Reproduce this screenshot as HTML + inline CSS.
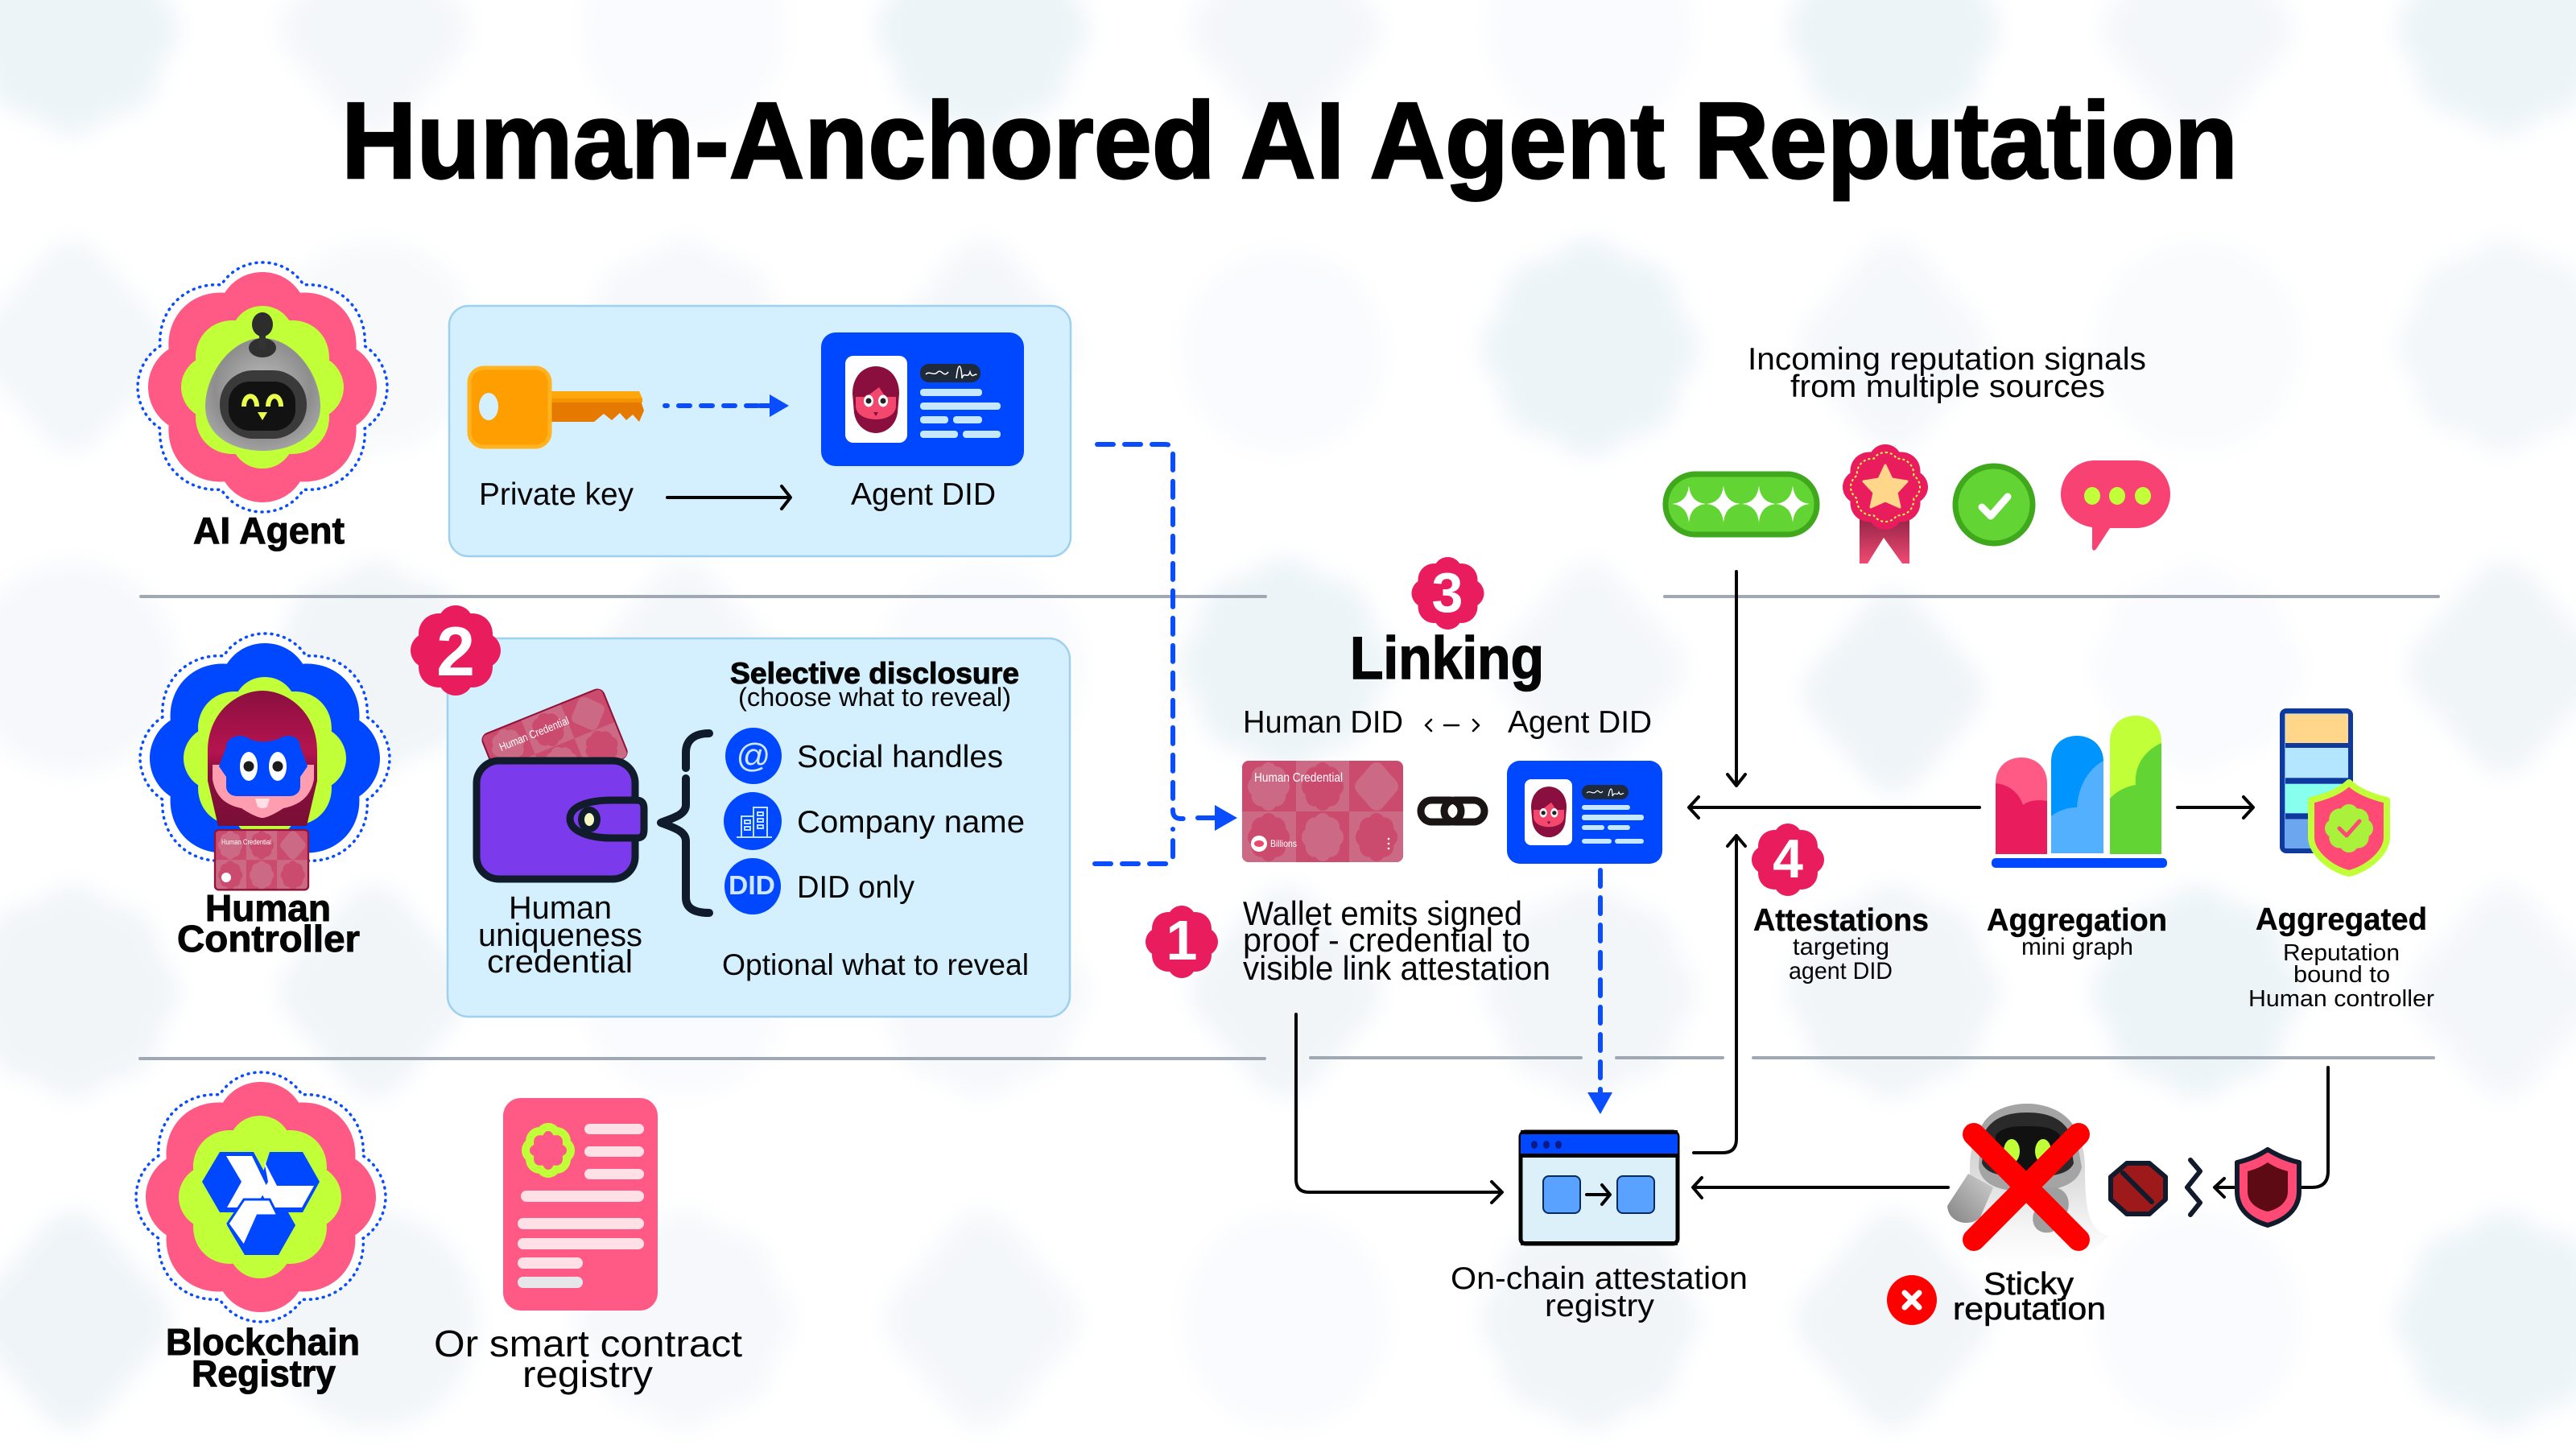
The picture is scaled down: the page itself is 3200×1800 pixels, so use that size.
<!DOCTYPE html>
<html><head><meta charset="utf-8"><title>Human-Anchored AI Agent Reputation</title>
<style>
html,body{margin:0;padding:0;background:#fff;width:3200px;height:1800px;overflow:hidden}
svg{display:block;position:absolute;left:0;top:0;overflow:hidden}
text{font-family:"Liberation Sans",sans-serif;fill:#050505}
.b{font-weight:700;stroke:#050505;stroke-width:1}
.t{font-weight:700;stroke:#000;stroke-width:2.5;fill:#000}
.w{fill:#fff;font-weight:700}
.ln{fill:none;stroke:#050505;stroke-width:4;stroke-linecap:round;stroke-linejoin:round}
.bd{fill:none;stroke:#0a4dff;stroke-width:6;stroke-linecap:round;stroke-linejoin:round;stroke-dasharray:20 14}
.dv{stroke:#a0a8b4;stroke-width:4;stroke-linecap:round}
</style></head><body>
<svg width="3200" height="1800" viewBox="0 0 3200 1800">
<defs>
<g id="f"><path transform="scale(.01)" vector-effect="non-scaling-stroke" d="M0-100C14-100 26-93 33-82C62-84 84-62 82-33C93-26 100-13 100 0C100 13 93 26 82 33C84 62 62 84 33 82C26 93 14 100 0 100C-14 100-26 93-33 82C-62 84-84 62-82 33C-93 26-100 13-100 0C-100-13-93-26-82-33C-84-62-62-84-33-82C-26-93-14-100 0-100Z"/></g>
<g id="d"><path transform="scale(.01)" d="M0-100C18-100 30-82 50-58C66-38 90-20 90 0C90 20 66 38 50 58C30 82 18 100 0 100C-18 100-30 82-50 58C-66 38-90 20-90 0C-90-20-66-38-50-58C-30-82-18-100 0-100Z"/></g>
<filter id="bl" filterUnits="userSpaceOnUse" x="-50" y="-50" width="3300" height="1900"><feGaussianBlur stdDeviation="14"/></filter>
<radialGradient id="gh" cx=".5" cy=".45" r=".6"><stop offset="0" stop-color="#bdbdbd"/><stop offset=".7" stop-color="#8e8e8e"/><stop offset="1" stop-color="#a8a8a8"/></radialGradient>
<linearGradient id="hair" x1="0" y1="0" x2="0" y2="1"><stop offset="0" stop-color="#8a0f3f"/><stop offset=".45" stop-color="#b5144f"/><stop offset=".6" stop-color="#8a0f3f"/><stop offset="1" stop-color="#7a0f35"/></linearGradient>
<linearGradient id="rib" x1="0" y1="0" x2="0" y2="1"><stop offset="0" stop-color="#8f2245"/><stop offset="1" stop-color="#f04a72"/></linearGradient>
<linearGradient id="ghb" x1="0" y1="0" x2="0" y2="1"><stop offset="0" stop-color="#c4c4c4"/><stop offset=".5" stop-color="#e0e0e0"/><stop offset=".78" stop-color="#f6f6f6"/><stop offset="1" stop-color="#ffffff"/></linearGradient>
<linearGradient id="arm" x1="1" y1="0" x2="0" y2="1"><stop offset="0" stop-color="#cfcfcf"/><stop offset="1" stop-color="#858585"/></linearGradient>
<clipPath id="cc"><rect width="200" height="126" rx="8"/></clipPath>
<g id="cred"><g clip-path="url(#cc)">
<rect width="200" height="126" fill="#cb4b6e"/>
<rect x="67" width="66" height="63" fill="#cc6a85"/><rect y="63" width="67" height="63" fill="#cc6a85"/><rect x="133" y="63" width="67" height="63" fill="#cc6a85"/>
<use href="#f" transform="translate(33,32) scale(26,30)" fill="#cc6a85"/><use href="#f" transform="translate(100,32) scale(26,30)" fill="#cb4b6e"/><use href="#d" transform="translate(167,32) scale(30,30)" fill="#cc6a85"/>
<use href="#f" transform="translate(33,95) scale(26,30)" fill="#cb4b6e"/><use href="#f" transform="translate(100,95) scale(26,30)" fill="#cc6a85"/><use href="#f" transform="translate(167,95) scale(26,30)" fill="#cb4b6e"/>
</g></g>
<g id="face">
<path d="M-29-8C-29-30-15-42 0-42C15-42 29-30 29-8L27 16C24 34 10 41 0 41C-10 41-24 34-27 16Z" fill="#8a0f3f"/>
<path d="M-25-4L-12-4L-4-10L4-16L12-4L25-4L25 8C24 20 10 24 0 24C-10 24-24 20-25 8Z" fill="#f4476e"/>
<ellipse cx="-9" cy="1" rx="6" ry="7.5" fill="#fff"/><ellipse cx="9" cy="1" rx="6" ry="7.5" fill="#fff"/>
<circle cx="-9" cy="1" r="3.5" fill="#222"/><circle cx="9" cy="1" r="3.5" fill="#222"/>
<path d="M-3 15H3L0 20Z" fill="#8a0f3f"/>
</g>
</defs>

<!-- background -->
<g filter="url(#bl)">
<use href="#f" transform="translate(90,36) scale(132)" fill="#edf4f8"/>
<use href="#d" transform="translate(465,36) scale(132)" fill="#f4f7fa"/>
<ellipse cx="850" cy="36" rx="128" ry="130" fill="#fafbfe"/>
<use href="#f" transform="translate(1220,36) scale(132)" fill="#edf4f8"/>
<use href="#d" transform="translate(1597,36) scale(132)" fill="#f4f7fa"/>
<ellipse cx="1975" cy="36" rx="128" ry="130" fill="#fafbfe"/>
<use href="#f" transform="translate(2352,36) scale(132)" fill="#edf4f8"/>
<use href="#d" transform="translate(2730,36) scale(132)" fill="#f4f7fa"/>
<use href="#f" transform="translate(3110,36) scale(132)" fill="#edf4f8"/>

<use href="#d" transform="translate(90,430) scale(132)" fill="#f3f7f9"/>
<ellipse cx="465" cy="430" rx="128" ry="130" fill="#f7f9fb"/>
<use href="#f" transform="translate(850,430) scale(132)" fill="#f6f8fb"/>
<use href="#d" transform="translate(1220,430) scale(132)" fill="#f4f7fa"/>
<ellipse cx="1594" cy="437" rx="127" ry="127" fill="#fafbfe"/>
<use href="#f" transform="translate(1975,432) scale(135)" fill="#edf4f8"/>
<use href="#d" transform="translate(2352,430) scale(132)" fill="#f5f8fa"/>
<ellipse cx="2730" cy="430" rx="128" ry="130" fill="#f9fbfd"/>
<use href="#f" transform="translate(3110,430) scale(132)" fill="#f3f7f9"/>

<ellipse cx="90" cy="830" rx="128" ry="130" fill="#f6f8fb"/>
<use href="#f" transform="translate(465,830) scale(132)" fill="#f1f5f8"/>
<use href="#d" transform="translate(850,830) scale(132)" fill="#f4f7fa"/>
<ellipse cx="1220" cy="830" rx="128" ry="130" fill="#fafbfe"/>
<use href="#f" transform="translate(1597,825) scale(132)" fill="#edf4f8"/>
<use href="#d" transform="translate(1975,830) scale(132)" fill="#f4f7fa"/>
<use href="#d" transform="translate(2352,860) scale(125)" fill="#eff4f8"/>
<use href="#f" transform="translate(2730,830) scale(132)" fill="#fafbfe"/>
<use href="#d" transform="translate(3110,830) scale(132)" fill="#f0f5f8"/>

<use href="#f" transform="translate(90,1232) scale(132)" fill="#f1f5f8"/>
<use href="#d" transform="translate(465,1232) scale(132)" fill="#f1f5f8"/>
<ellipse cx="850" cy="1232" rx="128" ry="130" fill="#fafbfe"/>
<use href="#f" transform="translate(1220,1232) scale(132)" fill="#f6f8fb"/>
<use href="#d" transform="translate(1597,1232) scale(132)" fill="#f1f5f8"/>
<use href="#f" transform="translate(1975,1232) scale(132)" fill="#f3f6f9"/>
<use href="#f" transform="translate(2352,1232) scale(132)" fill="#f1f5f8"/>
<use href="#f" transform="translate(2730,1232) scale(132)" fill="#edf4f8"/>
<use href="#d" transform="translate(3110,1232) scale(132)" fill="#f4f7fa"/>

<use href="#d" transform="translate(90,1640) scale(135)" fill="#eef4f8"/>
<ellipse cx="465" cy="1640" rx="128" ry="135" fill="#f2f6f9"/>
<use href="#f" transform="translate(850,1640) scale(135)" fill="#f6f8fb"/>
<use href="#d" transform="translate(1220,1640) scale(135)" fill="#f4f7fa"/>
<ellipse cx="1597" cy="1640" rx="128" ry="135" fill="#fafbfe"/>
<use href="#f" transform="translate(1975,1640) scale(135)" fill="#f1f5f8"/>
<use href="#d" transform="translate(2352,1640) scale(135)" fill="#f1f5f8"/>
<ellipse cx="2730" cy="1640" rx="128" ry="135" fill="#fafbfe"/>
<use href="#f" transform="translate(3110,1640) scale(135)" fill="#edf4f8"/>
</g>

<!-- title -->
<text class="t" x="424" y="221" font-size="135" textLength="2356" lengthAdjust="spacingAndGlyphs">Human-Anchored AI Agent Reputation</text>

<!-- dividers -->
<line class="dv" x1="175" y1="741" x2="1572" y2="741"/>
<line class="dv" x1="2068" y1="741" x2="3029" y2="741"/>
<line class="dv" x1="174" y1="1315" x2="1571" y2="1315"/>
<line class="dv" x1="1628" y1="1314" x2="1964" y2="1314"/>
<line class="dv" x1="2008" y1="1314" x2="2140" y2="1314"/>
<line class="dv" x1="2178" y1="1314" x2="3023" y2="1314"/>

<!-- AI Agent -->
<use href="#f" transform="translate(326,481) scale(155)" fill="#fff" stroke="#0a4dff" stroke-width="3.5" stroke-dasharray="1 7" stroke-linecap="round"/>
<use href="#f" transform="translate(326,481) scale(142,143)" fill="#ff5a85"/>
<use href="#f" transform="translate(326,481) scale(101)" fill="#c1ff38"/>
<path d="M326 420C365 420 398 465 398 505C398 540 365 560 326 560C287 560 255 540 255 505C255 465 287 420 326 420Z" fill="url(#gh)"/>
<ellipse cx="326" cy="432" rx="17" ry="12" fill="#303030"/>
<rect x="322" y="412" width="8" height="22" fill="#333"/>
<ellipse cx="326" cy="403" rx="13" ry="15" fill="#2d2d2d"/>
<rect x="273" y="460" width="108" height="85" rx="42" fill="#3a3a3a"/>
<rect x="284" y="474" width="83" height="61" rx="26" fill="#121212"/>
<path d="M303 505C303 488 319 488 319 505" fill="none" stroke="#eaff4d" stroke-width="6"/>
<path d="M333 505C333 488 349 488 349 505" fill="none" stroke="#eaff4d" stroke-width="6"/>
<path d="M320 512H332L326 522Z" fill="#eaff4d"/>
<text class="b" x="240" y="675" font-size="46" textLength="188" lengthAdjust="spacingAndGlyphs">AI Agent</text>

<!-- Panel 1 -->
<rect x="558" y="380" width="772" height="311" rx="24" fill="#d4effe" stroke="#9fd0ec" stroke-width="2.5"/>
<path d="M684 486H792L800 510L794 524L786 515L778 522L770 513L760 522L750 514L738 524L700 524L684 524Z" fill="#e67a00"/>
<path d="M684 486H794L798 495H684Z" fill="#ffa60d"/><rect x="684" y="495" width="114" height="5" fill="#f59300"/>
<rect x="583" y="457" width="100" height="98" rx="18" fill="#ff9e00" stroke="#ffb31f" stroke-width="5"/>
<ellipse cx="607" cy="505" rx="12" ry="17" fill="#d4effe"/>
<path d="M826 504H957" fill="none" stroke="#0a4dff" stroke-width="6" stroke-linecap="round" stroke-dasharray="3 14 14 14 14 14 14 14 14"/>
<path d="M956 490L980 504L956 518Z" fill="#0a4dff"/>
<rect x="1020" y="413" width="252" height="166" rx="18" fill="#0048ff"/>
<rect x="1050" y="442" width="77" height="108" rx="10" fill="#fff"/>
<use href="#face" transform="translate(1088,497)"/>
<rect x="1143" y="452" width="75" height="23" rx="11" fill="#1f2a3a"/>
<path d="M1150 465C1155 460 1160 468 1165 462C1170 458 1172 470 1178 462M1188 470C1190 450 1194 450 1195 470C1198 460 1202 472 1205 462C1208 472 1212 462 1213 466" fill="none" stroke="#fff" stroke-width="1.5"/>
<g fill="#c5e8ff"><rect x="1143" y="483" width="77" height="9" rx="4"/><rect x="1143" y="500" width="100" height="9" rx="4"/><rect x="1143" y="517" width="35" height="9" rx="4"/><rect x="1184" y="517" width="36" height="9" rx="4"/><rect x="1143" y="535" width="47" height="9" rx="4"/><rect x="1196" y="535" width="47" height="9" rx="4"/></g>
<text x="595" y="627" font-size="39" textLength="192" lengthAdjust="spacingAndGlyphs">Private key</text>
<path class="ln" d="M829 618H981M971 604L982 618L971 632"/>
<text x="1057" y="627" font-size="39" textLength="180" lengthAdjust="spacingAndGlyphs">Agent DID</text>

<!-- Human controller -->
<use href="#f" transform="translate(329,942) scale(155)" fill="#fff" stroke="#0a4dff" stroke-width="3.5" stroke-dasharray="1 7" stroke-linecap="round"/>
<use href="#f" transform="translate(329,942) scale(143)" fill="#0048ff"/>
<use href="#f" transform="translate(329,942) scale(101)" fill="#c1ff38"/>
<path d="M271 1026L258 970V935C257 885 295 858 326 858C357 858 395 885 394 935V970L381 1026Z" fill="url(#hair)"/>
<path d="M264 950H390V968C386 990 372 1000 352 1004C340 1012 330 1016 326 1016C322 1016 312 1012 300 1004C280 1000 268 990 264 968Z" fill="#ff9db0"/>
<path d="M272 952L281 928C281 915 300 910 310 918Q326 925 346 918C358 910 373 915 373 928L382 952L373 965V977C373 984 367 989 360 989H294C287 989 281 984 281 977V965Z" fill="#0048ff"/>
<ellipse cx="309" cy="952" rx="11" ry="18" fill="#fff"/><ellipse cx="345" cy="952" rx="11" ry="18" fill="#fff"/>
<circle cx="309" cy="952" r="6.5" fill="#1c1c1c"/><circle cx="345" cy="952" r="6.5" fill="#1c1c1c"/>
<path d="M317 992H335L332 1002Q326 1006 320 1002Z" fill="#ffe0e4"/>
<g transform="translate(267,1031) scale(.58,.59)"><use href="#cred"/><rect x="0" y="0" width="200" height="126" rx="8" fill="none" stroke="#8f1438" stroke-width="4"/></g>
<text x="275" y="1049" font-size="9" class="w" style="font-weight:400" textLength="62" lengthAdjust="spacingAndGlyphs">Human Credential</text>
<circle cx="281" cy="1090" r="6" fill="#fff"/>
<text class="b" x="255" y="1144" font-size="46" textLength="156" lengthAdjust="spacingAndGlyphs">Human</text>
<text class="b" x="220" y="1182" font-size="46" textLength="227" lengthAdjust="spacingAndGlyphs">Controller</text>

<!-- Panel 2 -->
<rect x="556" y="793" width="773" height="470" rx="26" fill="#d4effe" stroke="#9fd0ec" stroke-width="2.5"/>
<use href="#f" transform="translate(566,808) scale(56)" fill="#e91c5d"/>
<text class="w" x="566" y="839" font-size="86" text-anchor="middle">2</text>
<g transform="translate(598,915) rotate(-22)">
<rect x="0" y="0" width="160" height="90" rx="8" fill="#cb4b6e" stroke="#8f1438" stroke-width="4"/>
<g transform="scale(.8,.72)"><use href="#cred"/></g>
<text x="16" y="26" font-size="14" fill="#fff" style="fill:#fff" textLength="92" lengthAdjust="spacingAndGlyphs">Human Credential</text>
</g>
<rect x="592" y="945" width="197" height="147" rx="28" fill="#7c3aed" stroke="#101b2c" stroke-width="9"/>
<path d="M790 994H760C735 994 708 1000 708 1017C708 1034 735 1041 760 1041H790C798 1041 800 1038 800 1030V1005C800 998 798 994 790 994Z" fill="#7c3aed" stroke="#101b2c" stroke-width="9"/>
<ellipse cx="732" cy="1018" rx="14" ry="16" fill="#101b2c"/><ellipse cx="732" cy="1018" rx="6" ry="8" fill="#f5f8c5"/>
<path d="M881 911C862 911 852 920 852 935V954M852 967V1000C852 1012 836 1016 821 1022C836 1028 852 1032 852 1045V1115C852 1128 862 1134 881 1134" fill="none" stroke="#101b2c" stroke-width="10" stroke-linecap="round" stroke-linejoin="round"/>
<circle cx="936" cy="939" r="35" fill="#0048ff"/><circle cx="935" cy="1020" r="36" fill="#0048ff"/><circle cx="935" cy="1101" r="35" fill="#0048ff"/>
<text x="936" y="953" font-size="42" text-anchor="middle" style="fill:#cfe6ff">@</text>
<g fill="none" stroke="#bfe0ff" stroke-width="2"><rect x="921" y="1014" width="15" height="26"/><rect x="936" y="1003" width="17" height="37"/><line x1="915" y1="1040" x2="959" y2="1040"/><rect x="925" y="1019" width="7" height="4"/><rect x="925" y="1027" width="7" height="4"/><rect x="941" y="1009" width="7" height="4"/><rect x="941" y="1017" width="7" height="4"/><rect x="941" y="1025" width="7" height="4"/></g>
<text x="905" y="1111" font-size="33" font-weight="700" textLength="58" lengthAdjust="spacingAndGlyphs" style="fill:#cfe6ff">DID</text>
<text class="b" x="907" y="849" font-size="37" textLength="359" lengthAdjust="spacingAndGlyphs">Selective disclosure</text>
<text x="917" y="877" font-size="32" textLength="339" lengthAdjust="spacingAndGlyphs">(choose what to reveal)</text>
<text x="990" y="953" font-size="39" textLength="256" lengthAdjust="spacingAndGlyphs">Social handles</text>
<text x="990" y="1034" font-size="39" textLength="283" lengthAdjust="spacingAndGlyphs">Company name</text>
<text x="990" y="1115" font-size="39" textLength="146" lengthAdjust="spacingAndGlyphs">DID only</text>
<text x="897" y="1211" font-size="37" textLength="381" lengthAdjust="spacingAndGlyphs">Optional what to reveal</text>
<text x="632" y="1141" font-size="40" textLength="128" lengthAdjust="spacingAndGlyphs">Human</text>
<text x="594" y="1175" font-size="40" textLength="204" lengthAdjust="spacingAndGlyphs">uniqueness</text>
<text x="605" y="1208" font-size="40" textLength="181" lengthAdjust="spacingAndGlyphs">credential</text>

<!-- Blockchain -->
<use href="#f" transform="translate(324,1487) scale(155)" fill="#fff" stroke="#0a4dff" stroke-width="3.5" stroke-dasharray="1 7" stroke-linecap="round"/>
<use href="#f" transform="translate(324,1487) scale(143)" fill="#ff5a85"/>
<use href="#f" transform="translate(323,1487) scale(101)" fill="#c1ff38"/>
<path d="M273 1431H315L335 1468L315 1506H273L251 1468Z" fill="#0048ff"/>
<path d="M335 1431H376L397 1468L376 1506H335L323 1468Z" fill="#0048ff"/>
<path d="M304 1485H346L367 1522L346 1559H304L282 1522Z" fill="#0048ff"/>
<path d="M281 1436H313L332 1475L317 1500H282L300 1468Z" fill="#fff"/>
<path d="M328 1442L344 1473H390L375 1500H334L325 1482L333 1468Z" fill="#fff"/>
<path d="M303 1490H335L345 1510H320L303 1548L283 1520Z" fill="#fff" stroke="#0048ff" stroke-width="3"/>
<text class="b" x="206" y="1683" font-size="46" textLength="241" lengthAdjust="spacingAndGlyphs">Blockchain</text>
<text class="b" x="238" y="1722" font-size="46" textLength="179" lengthAdjust="spacingAndGlyphs">Registry</text>
<rect x="625" y="1364" width="192" height="264" rx="22" fill="#ff5a85"/>
<use href="#f" transform="translate(681,1429) scale(28,29)" fill="none" stroke="#c1ff38" stroke-width="10"/>
<g fill="#ffe0e6"><rect x="726" y="1396" width="74" height="13" rx="6.5"/><rect x="726" y="1424" width="74" height="13" rx="6.5"/><rect x="726" y="1452" width="74" height="13" rx="6.5"/><rect x="647" y="1479" width="153" height="14" rx="7"/><rect x="643" y="1513" width="157" height="14" rx="7"/><rect x="643" y="1538" width="157" height="14" rx="7"/><rect x="643" y="1562" width="81" height="14" rx="7"/></g>
<rect x="643" y="1586" width="81" height="14" rx="7" fill="#e6e7ea"/>
<text x="539" y="1685" font-size="46" textLength="383" lengthAdjust="spacingAndGlyphs">Or smart contract</text>
<text x="649" y="1723" font-size="46" textLength="162" lengthAdjust="spacingAndGlyphs">registry</text>

<!-- Linking -->
<use href="#f" transform="translate(1798.5,737) scale(45)" fill="#e91c5d"/>
<text class="w" x="1798" y="760" font-size="70" text-anchor="middle">3</text>
<text class="b" x="1677" y="843" font-size="74" textLength="241" lengthAdjust="spacingAndGlyphs" style="stroke-width:1.5">Linking</text>
<text x="1544" y="910" font-size="39" textLength="199" lengthAdjust="spacingAndGlyphs">Human DID</text>
<text x="1873" y="910" font-size="39" textLength="179" lengthAdjust="spacingAndGlyphs">Agent DID</text>
<path d="M1778 894L1771 901L1778 908M1794 901H1812M1830 894L1837 901L1830 908" fill="none" stroke="#050505" stroke-width="2.5" stroke-linecap="round" stroke-linejoin="round"/>
<use href="#cred" transform="translate(1543,945)"/>
<text x="1558" y="971" font-size="15.5" textLength="110" lengthAdjust="spacingAndGlyphs" style="fill:#fff">Human Credential</text>
<circle cx="1564" cy="1048" r="10" fill="#fff"/><ellipse cx="1564" cy="1048" rx="6" ry="4" fill="#e9486f"/>
<text x="1578" y="1052" font-size="12" textLength="33" lengthAdjust="spacingAndGlyphs" style="fill:#fff">Billions</text>
<g fill="#fff"><circle cx="1725" cy="1042" r="1.3"/><circle cx="1725" cy="1048" r="1.3"/><circle cx="1725" cy="1054" r="1.3"/></g>
<rect x="1765" y="994" width="50" height="27" rx="13.5" fill="none" stroke="#1a1414" stroke-width="9"/>
<rect x="1794" y="994" width="50" height="27" rx="13.5" fill="none" stroke="#1a1414" stroke-width="9"/>
<rect x="1872" y="945" width="193" height="128" rx="16" fill="#0048ff"/>
<rect x="1894" y="968" width="59" height="82" rx="8" fill="#fff"/>
<use href="#face" transform="translate(1924,1009) scale(.76)"/>
<rect x="1965" y="975" width="58" height="18" rx="9" fill="#1f2a3a"/>
<path d="M1971 985C1975 981 1979 988 1983 983C1986 980 1987 988 1991 983M1998 989C2000 977 2003 977 2003 989C2006 982 2009 990 2011 984C2013 990 2016 984 2017 986" fill="none" stroke="#fff" stroke-width="1.2"/>
<g fill="#c5e8ff"><rect x="1965" y="1000" width="60" height="6" rx="3"/><rect x="1965" y="1012" width="77" height="7" rx="3"/><rect x="1965" y="1025" width="28" height="6" rx="3"/><rect x="1997" y="1025" width="28" height="6" rx="3"/><rect x="1965" y="1042" width="37" height="6" rx="3"/><rect x="2006" y="1042" width="36" height="6" rx="3"/></g>

<!-- blue dashed connectors -->
<path class="bd" d="M1363 552H1447Q1457 552 1457 562V1007Q1457 1017 1467 1017H1472"/>
<path class="bd" d="M1360 1073H1447Q1457 1073 1457 1063V1030"/>
<line x1="1488" y1="1016" x2="1510" y2="1016" stroke="#0a4dff" stroke-width="6" stroke-linecap="round"/>
<path d="M1509 1000L1537 1016L1509 1032Z" fill="#0a4dff"/>
<path d="M1988 1081V1358" fill="none" stroke="#0a4dff" stroke-width="6" stroke-linecap="round" stroke-dasharray="20 14"/>
<path d="M1972 1357H2003L1988 1384Z" fill="#0a4dff"/>

<use href="#f" transform="translate(1468,1170) scale(45)" fill="#e91c5d"/>
<text class="w" x="1468" y="1192" font-size="70" text-anchor="middle">1</text>
<text x="1544" y="1149" font-size="42" textLength="347" lengthAdjust="spacingAndGlyphs">Wallet emits signed</text>
<text x="1544" y="1182" font-size="42" textLength="357" lengthAdjust="spacingAndGlyphs">proof - credential to</text>
<text x="1544" y="1217" font-size="42" textLength="382" lengthAdjust="spacingAndGlyphs">visible link attestation</text>

<!-- Signals -->
<text x="2171" y="459" font-size="39" textLength="495" lengthAdjust="spacingAndGlyphs">Incoming reputation signals</text>
<text x="2224" y="493" font-size="39" textLength="391" lengthAdjust="spacingAndGlyphs">from multiple sources</text>
<rect x="2069" y="589" width="188" height="75" rx="37" fill="#62d433" stroke="#3fa81c" stroke-width="7"/>
<g fill="#fff">
<path d="M2098 603Q2100 624 2119 626Q2100 628 2098 649Q2096 628 2077 626Q2096 624 2098 603Z"/>
<path d="M2141 603Q2143 624 2162 626Q2143 628 2141 649Q2139 628 2120 626Q2139 624 2141 603Z"/>
<path d="M2185 603Q2187 624 2206 626Q2187 628 2185 649Q2183 628 2164 626Q2183 624 2185 603Z"/>
<path d="M2227 603Q2229 624 2248 626Q2229 628 2227 649Q2225 628 2206 626Q2225 624 2227 603Z"/>
</g>
<path d="M2310 640H2372V700H2363L2340 668L2320 700H2310Z" fill="url(#rib)"/>
<use href="#f" transform="translate(2342,605) scale(53)" fill="#e91c5d"/>
<use href="#f" transform="translate(2342,605) scale(43)" fill="none" stroke="#e3ff4a" stroke-width="2" stroke-dasharray="3 3"/>
<path d="M2342 578L2350 595L2369 598L2356 612L2360 630L2342 622L2324 630L2328 612L2315 598L2334 595Z" fill="#ffd68a" stroke="#ffd68a" stroke-width="3" stroke-linejoin="round"/>
<circle cx="2477" cy="627" r="48" fill="#62d433" stroke="#3fa81c" stroke-width="7"/>
<path d="M2462 630L2473 641L2494 617" fill="none" stroke="#fff" stroke-width="9" stroke-linecap="round" stroke-linejoin="round"/>
<path d="M2602 572H2654C2677 572 2696 591 2696 614C2696 637 2677 656 2654 656H2621L2604 682Q2600 686 2599 681V655C2577 652 2560 635 2560 614C2560 591 2579 572 2602 572Z" fill="#f94274"/>
<g fill="#c1ff38"><ellipse cx="2599" cy="616" rx="10" ry="11"/><ellipse cx="2630" cy="616" rx="10" ry="11"/><ellipse cx="2662" cy="616" rx="10" ry="11"/></g>

<!-- black connectors -->
<path class="ln" d="M2157 710V976M2146 962L2157 976L2168 962"/>
<path class="ln" d="M2459 1003H2099M2110 990L2098 1003L2110 1016"/>
<path class="ln" d="M2104 1432H2140Q2157 1432 2157 1415V1038M2146 1051L2157 1038L2168 1051"/>
<path class="ln" d="M2705 1003H2798M2787 990L2799 1003L2787 1016"/>
<path class="ln" d="M1610 1260V1465Q1610 1481 1626 1481H1864M1853 1468L1866 1481L1853 1494"/>
<path class="ln" d="M2420 1475H2105M2114 1463L2103 1475L2114 1488"/>
<path class="ln" d="M2892 1326V1455Q2892 1475 2872 1475H2858"/>
<path class="ln" d="M2775 1475H2753M2763 1464L2751 1475L2763 1487"/>

<!-- Badge 4 and labels -->
<use href="#f" transform="translate(2221,1068) scale(45)" fill="#e91c5d"/>
<text class="w" x="2221" y="1090" font-size="68" text-anchor="middle">4</text>
<text class="b" x="2178" y="1156" font-size="39" textLength="218" lengthAdjust="spacingAndGlyphs" style="stroke-width:.4">Attestations</text>
<text x="2227" y="1186" font-size="30" textLength="120" lengthAdjust="spacingAndGlyphs">targeting</text>
<text x="2222" y="1216" font-size="30" textLength="129" lengthAdjust="spacingAndGlyphs">agent DID</text>
<text class="b" x="2468" y="1156" font-size="39" textLength="224" lengthAdjust="spacingAndGlyphs" style="stroke-width:.4">Aggregation</text>
<text x="2511" y="1186" font-size="30" textLength="139" lengthAdjust="spacingAndGlyphs">mini graph</text>
<text class="b" x="2802" y="1155" font-size="39" textLength="213" lengthAdjust="spacingAndGlyphs" style="stroke-width:.4">Aggregated</text>
<text x="2836" y="1193" font-size="29" textLength="145" lengthAdjust="spacingAndGlyphs">Reputation</text>
<text x="2849" y="1220" font-size="29" textLength="120" lengthAdjust="spacingAndGlyphs">bound to</text>
<text x="2793" y="1250" font-size="29" textLength="231" lengthAdjust="spacingAndGlyphs">Human controller</text>

<!-- bars -->
<path d="M2479 1061V973C2479 953 2493 941 2511 941C2529 941 2543 953 2543 973V1061Z" fill="#ff5a85"/>
<path d="M2479 973C2500 975 2510 990 2513 1000C2520 994 2532 993 2543 995V1061H2479Z" fill="#e91c5d"/>
<path d="M2548 1060V946C2548 926 2562 914 2580 914C2598 914 2613 926 2613 946V1060Z" fill="#0094ff"/>
<path d="M2548 1014C2558 1006 2570 1003 2580 1003C2582 975 2595 955 2613 945V1060H2548Z" fill="#52b0ff"/>
<path d="M2621 1061V921C2621 901 2635 889 2653 889C2671 889 2685 901 2685 921V1061Z" fill="#c1ff38"/>
<path d="M2621 992C2630 982 2642 977 2653 975C2651 950 2665 932 2685 923V1061H2621Z" fill="#62d433"/>
<rect x="2474" y="1066" width="218" height="12" rx="5" fill="#0048ff"/>

<!-- stack + shield -->
<rect x="2835" y="883" width="85" height="174" rx="5" fill="#6ca6ee" stroke="#10399e" stroke-width="6"/>
<rect x="2839" y="887" width="78" height="36" fill="#ffd68a"/>
<rect x="2839" y="929" width="78" height="37" fill="#b5e6ff"/>
<rect x="2839" y="974" width="78" height="36" fill="#88ffee"/>
<line x1="2839" y1="926" x2="2917" y2="926" stroke="#10399e" stroke-width="6"/><line x1="2839" y1="970" x2="2917" y2="970" stroke="#10399e" stroke-width="7"/><line x1="2839" y1="1014" x2="2917" y2="1014" stroke="#10399e" stroke-width="7"/>
<path d="M2918 972C2930 984 2948 990 2965 994V1040C2965 1060 2940 1080 2918 1085C2896 1080 2871 1060 2871 1040V994C2888 990 2906 984 2918 972Z" fill="#ff4a75" stroke="#c1ff38" stroke-width="8" stroke-linejoin="round"/>
<use href="#f" transform="translate(2918,1029) scale(30)" fill="#aaf13c"/>
<path d="M2906 1029L2915 1038L2931 1020" fill="none" stroke="#ff4a75" stroke-width="5" stroke-linecap="round" stroke-linejoin="round"/>

<!-- Registry -->
<rect x="1889" y="1406" width="195" height="139" rx="6" fill="#dcf0fa" stroke="#000" stroke-width="5"/>
<rect x="1889" y="1406" width="195" height="32" rx="5" fill="#0048ff"/>
<rect x="1889" y="1404" width="195" height="5" fill="#000"/><rect x="1889" y="1433" width="195" height="5" fill="#000"/><rect x="1889" y="1542" width="195" height="5" fill="#000"/>
<g fill="#0a1a88"><ellipse cx="1906" cy="1422" rx="4" ry="5"/><ellipse cx="1921" cy="1422" rx="4" ry="5"/><ellipse cx="1936" cy="1422" rx="4" ry="5"/></g>
<rect x="1917" y="1461" width="46" height="46" rx="7" fill="#5aa2ff" stroke="#0a2a5a" stroke-width="2"/>
<rect x="2009" y="1461" width="46" height="46" rx="7" fill="#5aa2ff" stroke="#0a2a5a" stroke-width="2"/>
<path d="M1971 1484H1999M1990 1472L2000 1484L1990 1496" fill="none" stroke="#000" stroke-width="4" stroke-linecap="round" stroke-linejoin="round"/>
<text x="1802" y="1601" font-size="39" textLength="369" lengthAdjust="spacingAndGlyphs">On-chain attestation</text>
<text x="1919" y="1635" font-size="39" textLength="136" lengthAdjust="spacingAndGlyphs">registry</text>

<!-- Ghost -->
<path d="M2447 1450C2447 1400 2480 1371 2518 1371C2556 1371 2590 1400 2590 1450C2590 1500 2594 1530 2620 1535C2600 1560 2540 1578 2480 1570C2455 1560 2447 1530 2447 1450Z" fill="url(#ghb)"/>
<path d="M2461 1400C2470 1380 2495 1371 2518 1371C2541 1371 2565 1380 2577 1400L2586 1450C2580 1475 2550 1480 2518 1480C2490 1480 2462 1475 2458 1450Z" fill="#a4a4a4"/>
<path d="M2466 1405C2476 1388 2495 1382 2518 1382C2541 1382 2560 1388 2570 1405L2576 1445C2570 1460 2545 1462 2518 1462C2492 1462 2468 1460 2462 1445Z" fill="#2a2a2a"/>
<path d="M2479 1410C2488 1400 2500 1399 2518 1399C2536 1399 2550 1400 2559 1410L2562 1445L2518 1462L2478 1445Z" fill="#111"/>
<ellipse cx="2499" cy="1430" rx="10" ry="15" fill="#c1ff38"/><ellipse cx="2538" cy="1430" rx="10" ry="15" fill="#c1ff38"/>
<path d="M2445 1458L2476 1475L2460 1512C2448 1525 2420 1520 2419 1498Z" fill="url(#arm)"/>
<path d="M2540 1476C2565 1470 2574 1490 2568 1505L2550 1530C2535 1535 2522 1525 2526 1508Z" fill="#9f9f9f"/>
<path d="M2452 1409L2582 1540M2582 1409L2452 1540" stroke="#ff0000" stroke-width="28" stroke-linecap="round" fill="none"/>
<path d="M2642 1445H2670L2690 1462V1490L2670 1508H2642L2622 1490V1462Z" fill="#9e1a1a" stroke="#121b2c" stroke-width="6" stroke-linejoin="round"/>
<line x1="2637" y1="1457" x2="2673" y2="1493" stroke="#121b2c" stroke-width="6" stroke-linecap="round"/>
<path d="M2721 1441L2733 1455L2717 1475L2733 1494L2721 1509" fill="none" stroke="#121b2c" stroke-width="6" stroke-linecap="round" stroke-linejoin="round"/>
<path d="M2817 1428C2830 1436 2843 1441 2856 1444V1480C2856 1503 2838 1516 2817 1522C2796 1516 2779 1503 2779 1480V1444C2792 1441 2805 1436 2817 1428Z" fill="#ff4a75" stroke="#121b2c" stroke-width="6" stroke-linejoin="round"/>
<path d="M2817 1444C2826 1450 2834 1453 2842 1455V1480C2842 1494 2830 1502 2817 1505C2804 1502 2792 1494 2792 1480V1455C2800 1453 2808 1450 2817 1444Z" fill="#5e0a14"/>
<circle cx="2375" cy="1615" r="31" fill="#ff0000"/>
<path d="M2366 1606L2384 1624M2384 1606L2366 1624" stroke="#fff" stroke-width="7" stroke-linecap="round"/>
<text x="2464" y="1608" font-size="39" textLength="112" lengthAdjust="spacingAndGlyphs" style="stroke:#050505;stroke-width:.6">Sticky</text>
<text x="2426" y="1639" font-size="39" textLength="190" lengthAdjust="spacingAndGlyphs" style="stroke:#050505;stroke-width:.6">reputation</text>
</svg>
</body></html>
